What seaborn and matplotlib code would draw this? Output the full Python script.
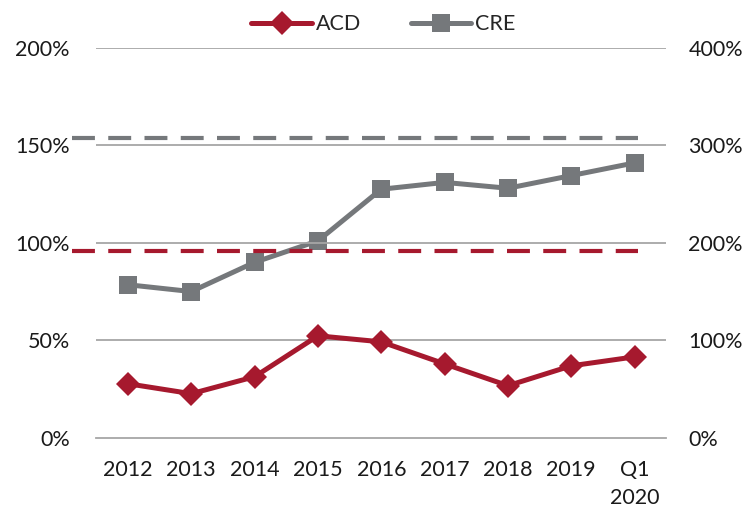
import numpy as np
import pandas as pd
import matplotlib.pyplot as plt
import seaborn as sns

# Data
periods = ["2012", "2013", "2014", "2015", "2016", "2017", "2018", "2019", "Q1\n2020"]
acd = [27.7, 22.6, 31.3, 52.3, 49.2, 37.9, 26.7, 36.9, 41.5]        # left axis, %
cre = [157, 150, 180, 202, 255, 262, 256, 269, 282]                 # right axis, %
acd_threshold = 96      # left axis, %
cre_threshold = 308     # right axis, %

red = "#A6192E"
gray = "#75787B"
grid_gray = "#A6A6A6"
fs = 15.5

sns.set_theme(style="white")
plt.rcParams['font.family'] = ['Lato', 'DejaVu Sans']

df = pd.DataFrame({"period": periods, "ACD": acd, "CRE": cre})
x = np.arange(len(periods))
df["x"] = x

fig, ax = plt.subplots(figsize=(7.52, 5.15), dpi=100)
fig.subplots_adjust(left=0.128, right=0.886, top=0.907, bottom=0.15)
ax2 = ax.twinx()

# gridlines (left axis scale)
for v in [50, 100, 150, 200]:
    ax.axhline(v, color=grid_gray, lw=1.3, zorder=0)

# threshold dashed lines, extending a bit left of the axis
ax.plot([-0.88, 8.05], [acd_threshold] * 2, color=red, lw=3, ls=(0, (5.5, 3.2)),
        clip_on=False, zorder=2)
ax2.plot([-0.88, 8.05], [cre_threshold] * 2, color=gray, lw=3, ls=(0, (5.5, 3.2)),
         clip_on=False, zorder=2)

sns.lineplot(data=df, x="x", y="CRE", ax=ax2, color=gray, lw=3.6, marker="s",
             markersize=13, markeredgewidth=0, label="CRE", legend=False, zorder=3)
sns.lineplot(data=df, x="x", y="ACD", ax=ax, color=red, lw=3.6, marker="D",
             markersize=12, markeredgewidth=0, label="ACD", legend=False, zorder=3)

ax.set_zorder(ax2.get_zorder() + 1)
ax.patch.set_visible(False)

ax.set_xlim(-0.5, len(periods) - 0.5)
ax.set_ylim(0, 200)
ax2.set_ylim(0, 400)
ax.set_yticks([0, 50, 100, 150, 200])
ax2.set_yticks([0, 100, 200, 300, 400])
ax.set_yticklabels([f"{v}%" for v in [0, 50, 100, 150, 200]])
ax2.set_yticklabels([f"{v}%" for v in [0, 100, 200, 300, 400]])
ax.set_xticks(x)
ax.set_xticklabels(periods, linespacing=1.5)
ax.set_xticks(np.arange(len(periods) + 1) - 0.5, minor=True)
ax.tick_params(axis="x", which="major", length=0, pad=16, labelsize=fs, colors="#1a1a1a")
ax.tick_params(axis="x", which="minor", length=6, width=1.2, color=grid_gray, direction="out")
ax.tick_params(axis="y", length=0, pad=19, labelsize=fs, colors="#1a1a1a")
ax2.tick_params(axis="y", length=0, pad=16, labelsize=fs, colors="#1a1a1a")
ax.set_xlabel("")
ax.set_ylabel("")
ax2.set_ylabel("")

for a in (ax, ax2):
    for side in ["top", "left", "right", "bottom"]:
        a.spines[side].set_visible(False)
ax.spines["bottom"].set_visible(True)
ax.spines["bottom"].set_color(grid_gray)
ax.spines["bottom"].set_linewidth(1.3)

h1, l1 = ax.get_legend_handles_labels()
h2, l2 = ax2.get_legend_handles_labels()
fig.legend(h1 + h2, l1 + l2, loc="upper center", bbox_to_anchor=(0.51, 1.01), ncol=2,
           frameon=False, fontsize=fs, handlelength=2.8, columnspacing=2.3,
           handletextpad=0.2)

fig.savefig("out.png", dpi=100)
